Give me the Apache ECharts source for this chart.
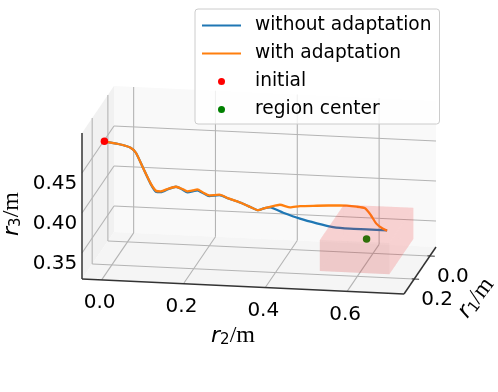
<!DOCTYPE html>
<html>
<head>
<meta charset="utf-8">
<style>html,body{margin:0;padding:0;background:#fff}#main{width:498px;height:392px}</style>
<script src="https://cdn.jsdelivr.net/npm/echarts@6/dist/echarts.min.js"></script>
</head>
<body>
<div id="main"></div>
<script>
// r2, r3 along the path (r1 stays at pathR1)
const pathR1 = 0.3;
const withR2 = [0.001, 0.035, 0.065, 0.078, 0.096, 0.114, 0.127, 0.139, 0.157, 0.176, 0.190, 0.204, 0.217, 0.228, 0.243, 0.257, 0.282, 0.304, 0.328, 0.353, 0.377, 0.393, 0.406, 0.430, 0.455, 0.479, 0.520, 0.577, 0.618, 0.638, 0.652, 0.665, 0.679, 0.692];
const withR3 = [0.4864, 0.4839, 0.4800, 0.4740, 0.4549, 0.4366, 0.4277, 0.4272, 0.4309, 0.4338, 0.4317, 0.4288, 0.4303, 0.4318, 0.4279, 0.4250, 0.4264, 0.4224, 0.4187, 0.4139, 0.4093, 0.4124, 0.4143, 0.4174, 0.4147, 0.4169, 0.4183, 0.4201, 0.4194, 0.4179, 0.4098, 0.3997, 0.3942, 0.3912];
const withoutR2 = [0.001, 0.035, 0.065, 0.078, 0.096, 0.114, 0.127, 0.139, 0.157, 0.176, 0.190, 0.204, 0.217, 0.228, 0.243, 0.257, 0.282, 0.304, 0.328, 0.353, 0.377, 0.393, 0.406, 0.438, 0.479, 0.520, 0.560, 0.601, 0.642, 0.692];
const withoutR3 = [0.4864, 0.4839, 0.4800, 0.4740, 0.4549, 0.4360, 0.4265, 0.4262, 0.4305, 0.4338, 0.4312, 0.4276, 0.4290, 0.4306, 0.4272, 0.4240, 0.4258, 0.4222, 0.4187, 0.4139, 0.4093, 0.4124, 0.4136, 0.4076, 0.4011, 0.3963, 0.3926, 0.3915, 0.3917, 0.3916];
const initialPoint = [0.3, 0.001, 0.4864];
const centerPoint = [0.108, 0.605, 0.351];
const regionR1 = [-0.045, 0.261];
const regionR2 = [0.52, 0.69];
const regionR3 = [0.331, 0.370];

const r1Ticks = [0.0, 0.2];
const r2Ticks = [0.0, 0.2, 0.4, 0.6];
const r3Ticks = [0.35, 0.40, 0.45];
const r1Lim = [-0.078, 0.330];
const r2Lim = [-0.048, 0.739];
const r3Lim = [0.3175, 0.5];

const legendNames = ['without adaptation', 'with adaptation', 'initial', 'region center'];

const FONT = '"DejaVu Sans"';
const LEGEND_LINE = 'path://M0 0H390V21H0Z';

// 3d view -> page pixels (front bottom left corner + the three box edges)
function project(r1, r2, r3) {
  const u = (r2 - r2Lim[0]) / (r2Lim[1] - r2Lim[0]);
  const t = (r1Lim[1] - r1) / (r1Lim[1] - r1Lim[0]);
  const v = (r3 - r3Lim[0]) / (r3Lim[1] - r3Lim[0]);
  return [82 + 322 * u + 32 * t, 279 + 15 * u - 47 * t - 146 * v];
}

const [a0, a1] = r1Lim, [b0, b1] = r2Lim, [c0, c1] = r3Lim;

function poly(corners, fill) {
  return { points: corners.map(p => project(p[0], p[1], p[2])), fill: fill };
}
function seg(p, q, color, width) {
  return { points: [project(p[0], p[1], p[2]), project(q[0], q[1], q[2])], stroke: color, width: width };
}

// panes
const frame = [
  poly([[a0, b0, c0], [a0, b1, c0], [a0, b1, c1], [a0, b0, c1]], '#f9f9f9'),
  poly([[a0, b0, c0], [a1, b0, c0], [a1, b0, c1], [a0, b0, c1]], '#f1f1f1'),
  poly([[a0, b0, c0], [a0, b1, c0], [a1, b1, c0], [a1, b0, c0]], '#f5f5f5')
];
// grid lines
const GRID = '#b4b4b4';
r2Ticks.forEach(v => {
  frame.push(seg([a1, v, c0], [a0, v, c0], GRID, 1.1));
  frame.push(seg([a0, v, c0], [a0, v, c1], GRID, 1.1));
});
r1Ticks.forEach(v => {
  frame.push(seg([v, b0, c0], [v, b1, c0], GRID, 1.1));
  frame.push(seg([v, b0, c0], [v, b0, c1], GRID, 1.1));
});
r3Ticks.forEach(v => {
  frame.push(seg([a1, b0, v], [a0, b0, v], GRID, 1.1));
  frame.push(seg([a0, b0, v], [a0, b1, v], GRID, 1.1));
});
// axis lines
const AXIS = '#333';
frame.push(seg([a1, b0, c0], [a1, b0, c1], AXIS, 1.5));
frame.push(seg([a1, b0, c0], [a1, b1, c0], AXIS, 1.5));
frame.push(seg([a1, b1, c0], [a0, b1, c0], AXIS, 1.5));
// ticks on r1 axis
r1Ticks.forEach(v => {
  frame.push(seg([v, b1 - 0.006, c0], [v, b1 + 0.012, c0], AXIS, 1));
});

// region box, faces shaded a bit differently
const [x0, x1] = regionR1, [y0, y1] = regionR2, [z0, z1] = regionR3;
const RED_DARK = 'rgba(190,50,50,0.13)';
const RED_LIGHT = 'rgba(250,50,50,0.1)';
const region = [
  poly([[x0, y0, z0], [x0, y1, z0], [x0, y1, z1], [x0, y0, z1]], RED_LIGHT),
  poly([[x0, y0, z0], [x1, y0, z0], [x1, y0, z1], [x0, y0, z1]], RED_LIGHT),
  poly([[x0, y0, z0], [x0, y1, z0], [x1, y1, z0], [x1, y0, z0]], RED_LIGHT),
  poly([[x1, y0, z0], [x1, y1, z0], [x1, y1, z1], [x1, y0, z1]], RED_DARK),
  poly([[x0, y1, z0], [x1, y1, z0], [x1, y1, z1], [x0, y1, z1]], RED_LIGHT),
  poly([[x0, y0, z1], [x0, y1, z1], [x1, y1, z1], [x1, y0, z1]], RED_LIGHT)
];

function shapeSeries(name, shapes, z) {
  return {
    type: 'custom',
    name: name,
    coordinateSystem: 'cartesian2d',
    silent: true,
    z: z,
    clip: false,
    data: shapes.map((s, i) => [i]),
    encode: { x: 0, y: 0 },
    renderItem: function (params, api) {
      const s = shapes[params.dataIndex];
      const pts = s.points.map(p => api.coord(p));
      if (s.fill) {
        return { type: 'polygon', shape: { points: pts }, style: { fill: s.fill, stroke: null } };
      }
      return { type: 'polyline', shape: { points: pts }, style: { fill: null, stroke: s.stroke, lineWidth: s.width } };
    }
  };
}

function lineData(r2s, r3s) {
  return r2s.map((v, i) => project(pathR1, v, r3s[i]));
}

function tickText(str, pos, dx, dy) {
  return {
    type: 'text', x: pos[0] + dx, y: pos[1] + dy, z: 5,
    style: { text: str, font: '20px ' + FONT, fill: '#000', align: 'center', verticalAlign: 'middle' }
  };
}

function axisTitle(sub, x, y, rot) {
  return {
    type: 'text', x: x, y: y, rotation: rot, z: 5,
    style: {
      text: '{i|r}{s|' + sub + '}{m|/m}',
      align: 'center', verticalAlign: 'middle',
      rich: {
        i: { font: 'italic 22px ' + FONT, fill: '#000' },
        s: { font: '15px ' + FONT, fill: '#000', verticalAlign: 'bottom', padding: [6, 0, 0, 0] },
        m: { font: '24px "Liberation Serif"', fill: '#000' }
      }
    }
  };
}

const labels = [];
r2Ticks.forEach(v => labels.push(tickText(v.toFixed(1), project(a1, v, c0), -2, 23)));
r3Ticks.forEach(v => labels.push(tickText(v.toFixed(2), project(a1, b0, v), -27, 11)));
r1Ticks.forEach(v => labels.push(tickText(v.toFixed(1), project(v, b1, c0), 23, 21)));
labels.push(axisTitle('2', 233, 336, 0));
labels.push(axisTitle('3', 12, 214, Math.PI / 2));
labels.push(axisTitle('1', 476, 298, 53 * Math.PI / 180));

const chart = echarts.init(document.getElementById('main'), null, { renderer: 'canvas' });
chart.setOption({
  animation: false,
  backgroundColor: '#fff',
  grid: { left: 0, right: 0, top: 0, bottom: 0 },
  xAxis: { type: 'value', min: 0, max: 498, show: false },
  yAxis: { type: 'value', min: 0, max: 392, inverse: true, show: false },
  legend: {
    data: [
      { name: legendNames[0], icon: LEGEND_LINE },
      { name: legendNames[1], icon: LEGEND_LINE },
      { name: legendNames[2] },
      { name: legendNames[3] }
    ],
    orient: 'vertical',
    left: 195,
    top: 9,
    padding: [7, 8, 5, 7],
    itemWidth: 39,
    itemHeight: 7,
    itemGap: 9,
    align: 'left',
    selectedMode: false,
    backgroundColor: 'rgba(255,255,255,0.8)',
    borderColor: '#cccccc',
    borderWidth: 1,
    borderRadius: 3,
    z: 20,
    textStyle: { fontFamily: FONT, fontSize: 18.6, color: '#000', lineHeight: 19, padding: [0, 0, 0, 9] }
  },
  graphic: { elements: labels },
  series: [
    shapeSeries('frame', frame, 1),
    {
      type: 'line', name: legendNames[0], data: lineData(withoutR2, withoutR3),
      symbol: 'none', z: 3, clip: false, silent: true, smooth: 0.2,
      lineStyle: { color: '#1f77b4', width: 2.3 }, itemStyle: { color: '#1f77b4' }
    },
    {
      type: 'line', name: legendNames[1], data: lineData(withR2, withR3),
      symbol: 'none', z: 4, clip: false, silent: true, smooth: 0.2,
      lineStyle: { color: '#ff7f0e', width: 2.3 }, itemStyle: { color: '#ff7f0e' }
    },
    {
      type: 'scatter', name: legendNames[2], data: [project(initialPoint[0], initialPoint[1], initialPoint[2])],
      symbolSize: 7.5, z: 5, silent: true, itemStyle: { color: '#ff0000', opacity: 1 }
    },
    {
      type: 'scatter', name: legendNames[3], data: [project(centerPoint[0], centerPoint[1], centerPoint[2])],
      symbolSize: 7.5, z: 5, silent: true, itemStyle: { color: '#008000', opacity: 1 }
    },
    shapeSeries('region', region, 6)
  ]
});
</script>
</body>
</html>
